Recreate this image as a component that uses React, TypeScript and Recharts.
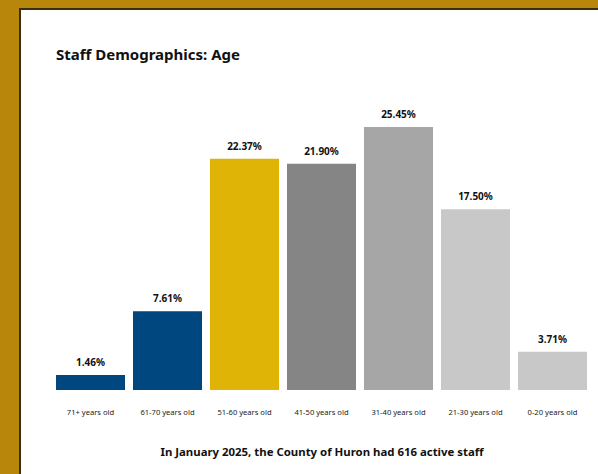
import { BarChart, Bar, XAxis, YAxis, Cell, LabelList } from 'recharts';

const ageGroups = [
  '71+ years old',
  '61-70 years old',
  '51-60 years old',
  '41-50 years old',
  '31-40 years old',
  '21-30 years old',
  '0-20 years old',
];
const staffShare = [1.46, 7.61, 22.37, 21.9, 25.45, 17.5, 3.71];
const barColors = ['#00467f', '#00467f', '#dfb406', '#858585', '#a6a6a6', '#c8c8c8', '#c8c8c8'];

const data = ageGroups.map((group, i) => ({ group, share: staffShare[i] }));

const font = '"Noto Sans", sans-serif';

export default function App() {
  return (
    <div
      style={{
        position: 'absolute',
        left: 0,
        top: 0,
        width: 598,
        height: 474,
        background: '#b8860b',
        overflow: 'hidden',
        fontFamily: font,
      }}
    >
      <div
        style={{
          position: 'absolute',
          left: 19,
          top: 8,
          right: 0,
          bottom: 0,
          background: '#fff',
          borderLeft: '2px solid #3b2e0a',
          borderTop: '2px solid #3b2e0a',
        }}
      />
      <div
        style={{
          position: 'absolute',
          left: 56,
          top: 44,
          fontSize: 15,
          fontWeight: 700,
          color: '#111',
          whiteSpace: 'nowrap',
        }}
      >
        Staff Demographics: Age
      </div>
      <div style={{ position: 'absolute', left: 0, top: 0 }}>
        <BarChart
          width={598}
          height={474}
          data={data}
          margin={{ top: 80, right: 7, bottom: 54, left: 52 }}
          barCategoryGap={4}
        >
          <XAxis
            dataKey="group"
            axisLine={false}
            tickLine={false}
            tickSize={0}
            tickMargin={20}
            height={30}
            interval={0}
            tick={{ fontSize: 7.6, fill: '#222', fontFamily: font }}
          />
          <YAxis hide domain={[0, 30]} />
          <Bar dataKey="share" isAnimationActive={false}>
            {data.map((d, i) => (
              <Cell key={d.group} fill={barColors[i]} />
            ))}
            <LabelList
              dataKey="share"
              position="top"
              offset={9}
              formatter={(v: number) => `${v.toFixed(2)}%`}
              style={{ fontSize: 10, fontWeight: 700, fill: '#111', fontFamily: font }}
            />
          </Bar>
        </BarChart>
      </div>
      <div
        style={{
          position: 'absolute',
          left: 0,
          width: 644,
          top: 444,
          textAlign: 'center',
          fontSize: 11.4,
          fontWeight: 700,
          color: '#111',
          whiteSpace: 'nowrap',
        }}
      >
        In January 2025, the County of Huron had 616 active staff
      </div>
    </div>
  );
}
